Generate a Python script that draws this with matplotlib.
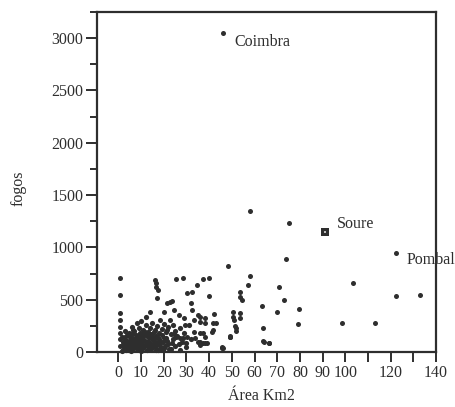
#!/usr/bin/env python3
"""Scatter of fogos vs area (km2) per freguesia."""

import matplotlib
matplotlib.use('Agg')
import matplotlib.pyplot as plt
from matplotlib.ticker import FixedLocator, MultipleLocator

#### DATA ####
# sparse / larger freguesias
areaSparse = [46.0, 57.8, 75.3, 122.2, 74.0, 48.4, 57.8, 57.2, 70.8, 103.4,
              122.2, 132.8, 73.2, 79.8, 70.1, 63.2, 79.3, 98.7, 112.9, 63.8,
              63.8, 66.5, 51.9, 51.9, 49.0, 45.7, 53.4, 53.7, 54.4, 50.5,
              50.5, 53.7, 53.7, 37.5, 40.0, 40.0, 42.2, 36.0, 38.3, 41.9,
              43.1, 41.3, 36.0, 38.2, 49.0, 36.0, 38.2, 45.9, 25.4, 28.4,
              34.6, 30.2, 32.4, 21.3, 23.6, 31.9, 0.8, 0.8, 16.2, 16.6,
              16.6, 17.6, 16.9, 22.8, 0.8, 0.8, 0.8, 0.8, 0.8, 0.8,
              14.0, 19.9, 24.3, 26.5, 22.8, 28.7, 32.4, 33.1, 35.3, 36.0,
              38.2, 41.9, 37.5, 33.1, 29.4, 30.2, 27.2, 21.3, 19.9, 18.4,
              51.0, 51.5, 49.3, 45.6, 33.8, 35.3, 37.5, 36.0, 39.0, 64.0,
              66.3]
fogosSparse = [3047, 1351, 1236, 944, 889, 825, 727, 643, 624, 662,
               535, 548, 497, 411, 379, 443, 265, 280, 280, 232,
               102, 83, 226, 205, 153, 35, 576, 529, 497, 385,
               337, 370, 322, 695, 707, 538, 363, 337, 325, 280,
               280, 194, 179, 146, 146, 98, 83, 41, 698, 704,
               640, 561, 574, 471, 490, 465, 705, 545, 688, 657,
               625, 593, 513, 482, 370, 306, 242, 179, 120, 60,
               385, 385, 402, 354, 306, 322, 402, 306, 354, 290,
               274, 210, 179, 194, 258, 146, 131, 210, 131, 306,
               306, 250, 146, 45, 131, 98, 83, 67, 83, 98,
               83]

# dense cluster of small freguesias near the origin
areaCluster = [1.5, 2.0, 2.5, 3.0, 3.5, 4.0, 4.0, 4.5, 5.0, 5.0,
               5.5, 6.0, 6.0, 6.5, 7.0, 7.0, 7.5, 8.0, 8.0, 8.5,
               9.0, 9.0, 9.5, 10.0, 10.0, 10.5, 11.0, 11.0, 11.5, 12.0,
               12.0, 12.5, 13.0, 13.0, 13.5, 14.0, 14.0, 14.5, 15.0, 15.0,
               15.5, 16.0, 16.0, 16.5, 17.0, 17.0, 17.5, 18.0, 18.0, 18.5,
               19.0, 19.0, 19.5, 20.0, 20.0, 21.0, 21.0, 22.0, 22.0, 23.0,
               23.0, 24.0, 24.0, 25.0, 25.0, 26.0, 27.0, 28.0, 29.0, 30.0,
               31.0, 32.0, 3.0, 2.0, 6.0, 8.0, 10.0, 12.0, 3.0, 4.5,
               6.5, 8.5, 10.5, 12.5, 14.5, 16.5, 18.5, 7.5, 9.5, 11.5,
               13.5, 15.5, 17.5, 5.5, 3.5, 2.5, 27.0, 30.0, 20.5, 22.5,
               2.2, 3.2, 4.2, 5.2, 6.2, 7.2, 8.2, 9.2, 10.2, 11.2,
               12.2, 13.2, 14.2, 15.2, 16.2, 17.2, 3.8, 5.8, 7.8, 9.8,
               11.8, 13.8, 15.8, 4.8, 6.8, 8.8, 10.8, 12.8, 14.8, 16.8,
               18.8, 19.8, 21.5, 23.5, 25.5, 26.5, 28.5, 24.5, 1.8, 2.8]
fogosCluster = [5, 20, 45, 80, 15, 55, 110, 30, 90, 140,
                10, 60, 170, 35, 120, 200, 75, 25, 150, 100,
                55, 230, 180, 10, 130, 80, 210, 40, 160, 100,
                260, 20, 190, 60, 140, 230, 90, 30, 170, 280,
                120, 50, 210, 150, 90, 250, 15, 180, 120, 60,
                220, 160, 100, 40, 270, 190, 130, 240, 80, 170,
                30, 260, 120, 200, 60, 150, 230, 100, 180, 50,
                260, 120, 140, 100, 240, 280, 300, 330, 200, 180,
                210, 60, 170, 70, 150, 20, 30, 50, 20, 60,
                30, 60, 130, 25, 40, 70, 20, 90, 60, 30,
                65, 40, 85, 110, 25, 95, 60, 140, 45, 115,
                70, 105, 50, 75, 100, 140, 160, 130, 165, 110,
                190, 170, 195, 15, 85, 125, 160, 150, 120, 75,
                95, 20, 110, 90, 140, 80, 130, 175, 140, 115]

# Soure, highlighted
areaSoure = [91.2]
fogosSoure = [1144]

labelNames  = ['Coimbra', 'Soure', 'Pombal']
labelAreas  = [46.0, 91.2, 122.2]
labelFogos  = [3047, 1144, 944]
labelOffset = [(8, -6), (8, 6), (8, -5)]

xTicks      = [0, 10, 20, 30, 40, 50, 60, 70, 80, 90, 100, 110, 120, 130, 140]
xTickLabels = ['0', '10', '20', '30', '40', '50', '60', '70', '80', '90', '100', '', '120', '', '140']

#### STYLE ####
dpi     = 100
figsize = (456/dpi, 407/dpi)
ink     = '#2e2e2e'
plt.rcParams['font.family'] = ['Liberation Serif', 'DejaVu Serif']
plt.rcParams['font.size'] = 11.5
plt.rcParams['text.color'] = ink
plt.rcParams['axes.labelcolor'] = ink
plt.rcParams['xtick.color'] = ink
plt.rcParams['ytick.color'] = ink

fig = plt.figure(figsize=figsize, dpi=dpi)
ax = fig.add_axes([0.2134, 0.1351, 0.7428, 0.8354])

ax.scatter(areaCluster, fogosCluster, s=14, color=ink, marker='o', linewidths=0, clip_on=False)
ax.scatter(areaSparse, fogosSparse, s=13, color=ink, marker='o', linewidths=0, clip_on=False)
ax.scatter(areaSoure, fogosSoure, s=36, color=ink, marker='s', linewidths=0)
ax.scatter(areaSoure, fogosSoure, s=3, color='#bbbbbb', marker='s', linewidths=0)

for name, x, y, off in zip(labelNames, labelAreas, labelFogos, labelOffset):
    ax.annotate(name, (x, y), xytext=off, textcoords='offset points',
                ha='left', va='center', fontsize=11.5, annotation_clip=False)

ax.set_xlim(-9.3, 140)
ax.set_ylim(0, 3250)

ax.xaxis.set_major_locator(FixedLocator(xTicks))
ax.set_xticklabels(xTickLabels)
ax.yaxis.set_major_locator(MultipleLocator(500))
ax.yaxis.set_minor_locator(MultipleLocator(250))
ax.set_yticks([0, 500, 1000, 1500, 2000, 2500, 3000])

ax.tick_params(axis='x', direction='out', length=7, width=1.4, pad=2)
ax.tick_params(axis='y', which='major', direction='out', length=8, width=1.4, pad=2)
ax.tick_params(axis='y', which='minor', direction='out', length=5, width=1.4)

for spine in ax.spines.values():
    spine.set_linewidth(1.6)
    spine.set_color(ink)

ax.set_xlabel('Área Km2')
ax.set_ylabel('fogos')
ax.xaxis.set_label_coords(0.486, -0.105)
ax.yaxis.set_label_coords(-0.21, 0.482)

plt.savefig('out.png', dpi=dpi)
